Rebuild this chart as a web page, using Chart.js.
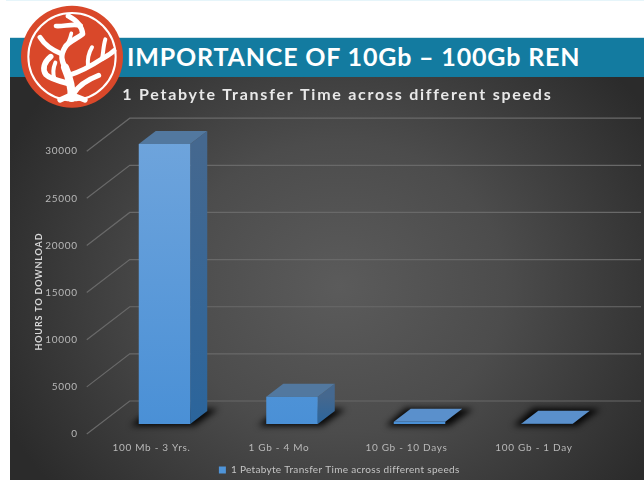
<!DOCTYPE html>
<html><head><meta charset="utf-8">
<style>
html,body{margin:0;padding:0;background:#fff;width:644px;height:480px;overflow:hidden}
#topline{position:absolute;left:6px;top:0;width:638px;height:1px;background:#e6f5fa}
#panel{position:absolute;left:10px;top:77px;width:634px;height:403px;background:radial-gradient(ellipse 58% 80% at 52% 52%,#5b5b5b 0%,#4c4c4c 45%,#2b2b2b 100%)}
#band{position:absolute;left:10px;top:37px;width:634px;height:40px;background:#137ba0;border-top:1px solid #cfe3ea;box-sizing:border-box}
#head{position:absolute;left:127px;top:38px;color:#fff;font:bold 25px/37px Lato,sans-serif;letter-spacing:.83px;white-space:nowrap}
#logo{position:absolute;left:20px;top:4px}
#c{position:absolute;left:30px;top:0}
</style></head><body>
<div id="topline"></div><div id="panel"></div><div id="band"></div>
<div id="head">IMPORTANCE OF 10Gb – 100Gb REN</div>
<svg id="logo" width="104" height="106" viewBox="0 0 312 318">
<circle cx="156" cy="158" r="153" fill="#d9482a"/>
<circle cx="156" cy="158" r="131" fill="none" stroke="#fff" stroke-width="6"/>
<g fill="none" stroke="#fff" stroke-linecap="round" stroke-linejoin="round">
<path stroke-width="24" d="M155 282C156 250 150 225 135 190"/>
<path stroke-width="16" d="M135 190C125 170 120 155 135 130 145 112 170 105 188 90 186 70 172 50 145 36"/>
<path stroke-width="14" d="M182 65C160 58 130 68 108 66"/>
<path stroke-width="15" d="M125 150C100 140 75 125 60 100"/>
<path stroke-width="11" d="M135 130C145 118 150 105 154 88"/>
<path stroke-width="17" d="M150 240C120 232 90 225 78 212 66 195 72 175 92 158"/>
<path stroke-width="12" d="M104 226C98 210 100 190 106 176"/>
<path stroke-width="15" d="M162 268C175 245 200 228 236 214"/>
<path stroke-width="15" d="M146 214C175 205 215 185 245 165 262 155 272 150 282 140"/>
<path stroke-width="12" d="M204 188C202 170 204 150 216 130"/>
<path stroke-width="12" d="M246 165C250 145 250 125 256 106"/>
<path stroke-width="16" d="M120 288L155 272 195 288"/>
</g></svg>
<canvas id="c" width="614" height="480"></canvas>
<script src="https://cdn.jsdelivr.net/npm/chart.js@4"></script>
<script>
const categories=["100 Mb - 3 Yrs.","1 Gb - 4 Mo","10 Gb - 10 Days","100 Gb - 1 Day"];
const hours=[29700,2900,240,24];
const seriesName="1 Petabyte Transfer Time across different speeds";
const yTicks=[0,5000,10000,15000,20000,25000,30000];
const FONT="Lato, sans-serif";
const DX=17,DY=13;
const BASE_SPACING='0.7px';

function shifted(box,fn,dx,dy,spacing){
 if(box[fn+'_w'])return;
 const d=box[fn];
 box[fn]=function(a){const c=this.ctx;c.save();c.translate(dx,dy);c.letterSpacing=spacing;d.call(this,a);c.restore();c.letterSpacing=BASE_SPACING;};
 box[fn+'_w']=true;
}
const threeD={id:'threeD',
 beforeDraw(chart){
  chart.ctx.letterSpacing=BASE_SPACING;
  shifted(chart.titleBlock,'draw',17,0,'1.75px');
  shifted(chart.legend,'draw',11,5,'0.32px');
  shifted(chart.scales.y,'drawTitle',1,9,'0.85px');
 },
 beforeDatasetsDraw(chart){
  const ctx=chart.ctx,y=chart.scales.y,area=chart.chartArea;
  ctx.save();
  ctx.strokeStyle='#696969';ctx.lineWidth=1.2;
  yTicks.forEach(v=>{const p=y.getPixelForValue(v);
   ctx.beginPath();ctx.moveTo(area.left-14,p+10);ctx.lineTo(area.left+29,p-23);ctx.lineTo(611,p-23);ctx.stroke();});
  const bars=chart.getDatasetMeta(0).data;
  bars.forEach(b=>{
   const l=b.x-b.width/2,r=b.x+b.width/2,t=b.y,bs=b.base;
   ctx.save();ctx.filter='blur(3px)';ctx.fillStyle='rgba(0,0,0,.92)';
   ctx.beginPath();ctx.moveTo(l-8,bs+2);ctx.lineTo(r+4,bs+2);ctx.lineTo(r+28,bs-15);ctx.lineTo(l+12,bs-16);ctx.closePath();ctx.fill();ctx.restore();
   const tall=bs-t>6;
   if(tall){
    let g=ctx.createLinearGradient(0,t,0,bs);g.addColorStop(0,'#45688f');g.addColorStop(1,'#2b659c');
    ctx.fillStyle=g;ctx.beginPath();ctx.moveTo(r,t);ctx.lineTo(r+DX,t-DY);ctx.lineTo(r+DX,bs-DY);ctx.lineTo(r,bs);ctx.closePath();ctx.fill();
   }
   ctx.fillStyle=tall?'#52789f':'#5a90cc';
   ctx.beginPath();ctx.moveTo(l,t);ctx.lineTo(l+DX,t-DY);ctx.lineTo(r+DX,t-DY);ctx.lineTo(r,t);ctx.closePath();ctx.fill();
  });
  ctx.restore();
 }};

new Chart(document.getElementById('c'),{
 type:'bar',
 data:{labels:categories,datasets:[{label:seriesName,data:hours,
  barPercentage:.404,categoryPercentage:1,borderWidth:0,
  backgroundColor(c){const a=c.chart.chartArea;if(!a)return '#5b9bdc';
   const g=c.chart.ctx.createLinearGradient(0,a.top,0,a.bottom);g.addColorStop(0,'#6ea4dc');g.addColorStop(1,'#4a90d6');return g;}}]},
 options:{responsive:false,animation:false,
  layout:{padding:{left:0,right:33.25,top:0,bottom:0}},
  plugins:{
   tooltip:{enabled:false},
   title:{display:true,text:seriesName,color:'#e8e8e8',font:{family:FONT,size:16,weight:'bold'},padding:{top:85,bottom:37}},
   legend:{position:'bottom',labels:{color:'#c4c4c4',font:{family:FONT,size:10},boxWidth:7,boxHeight:7,padding:3,generateLabels(ch){return [{text:seriesName,fillStyle:'#4f94d8',strokeStyle:'#4f94d8',lineWidth:0,fontColor:'#c4c4c4'}];}}}
  },
  scales:{
   x:{grid:{display:false},border:{display:false},
      ticks:{color:'#b8b8b8',font:{family:FONT,size:10},padding:10,labelOffset:-13,maxRotation:0,autoSkip:false},
      afterFit(s){s.height=33;}},
   y:{min:0,max:30000,grid:{display:false},border:{display:false},
      afterBuildTicks(s){s.ticks=yTicks.map(v=>({value:v}));},
      afterFit(s){s.width=70.75;},
      title:{display:true,text:'HOURS TO DOWNLOAD',color:'#d8d8d8',font:{family:FONT,size:9,weight:'bold'},padding:{top:3,bottom:0}},
      ticks:{color:'#b8b8b8',font:{family:FONT,size:10},padding:15,labelOffset:10,callback:v=>String(v)}}
  }},
 plugins:[threeD]});
</script></body></html>
